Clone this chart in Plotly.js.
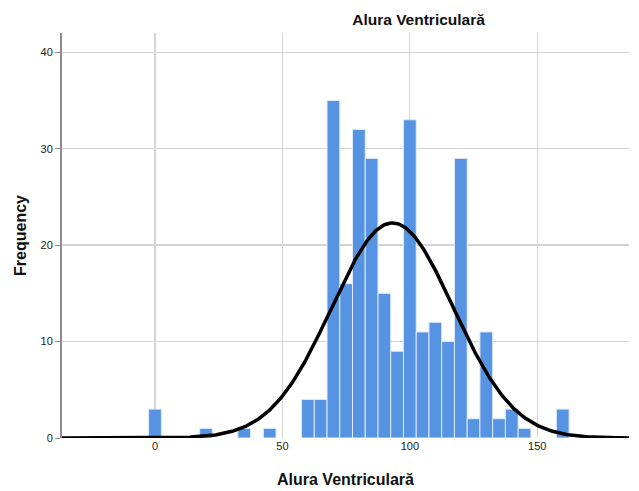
<!DOCTYPE html>
<html>
<head>
<meta charset="utf-8">
<script src="https://cdn.plot.ly/plotly-3.0.1.min.js"></script>
<style>html,body{margin:0;padding:0;background:#fff;}#chart{width:639px;height:491px;}</style>
</head>
<body>
<div id="chart"></div>
<script>
// Histogram bins (centres, width 5) and frequencies
const binCenters = [0, 20, 35, 45, 60, 65, 70, 75, 80, 85, 90, 95, 100, 105, 110, 115, 120, 125, 130, 135, 140, 145, 160];
const frequencies = [3, 1, 1, 1, 4, 4, 35, 16, 32, 29, 15, 9, 33, 11, 12, 10, 29, 2, 11, 2, 3, 1, 3];
const binWidth = 5;
const xTickVals = [0, 50, 100, 150];
const yTickVals = [0, 10, 20, 30, 40];
const titleText = "Alura Ventriculară";
const xTitle = "Alura Ventriculară";
const yTitle = "Frequency";

// Normal curve fitted to the binned data (mean, sd from the histogram)
let n = 0, s = 0, s2 = 0;
binCenters.forEach((c, i) => { n += frequencies[i]; s += c * frequencies[i]; s2 += c * c * frequencies[i]; });
const mean = s / n;
const sd = Math.sqrt((s2 - n * mean * mean) / (n - 1));
const xRange = [-36.5, 186];
const curveX = [], curveY = [];
for (let k = 0; k <= 400; k++) {
  const x = xRange[0] + (xRange[1] - xRange[0]) * k / 400;
  curveX.push(x);
  curveY.push(n * binWidth / (sd * Math.sqrt(2 * Math.PI)) * Math.exp(-0.5 * Math.pow((x - mean) / sd, 2)));
}

const traces = [
  {
    type: 'bar', x: binCenters, y: frequencies, width: binWidth,
    marker: { color: '#5694e3', line: { color: '#dfeafa', width: 1 } },
    hoverinfo: 'x+y'
  },
  {
    type: 'scatter', mode: 'lines', x: curveX, y: curveY,
    line: { color: '#000000', width: 3.5 }, hoverinfo: 'skip'
  }
];

const layout = {
  width: 639, height: 491,
  margin: { l: 62, r: 10, t: 33, b: 53 },
  paper_bgcolor: '#ffffff', plot_bgcolor: '#ffffff',
  showlegend: false,
  bargap: 0,
  font: { family: 'Liberation Sans, Arial, sans-serif', color: '#222' },
  title: {
    text: titleText, x: 0.655, xanchor: 'center', y: 0.961, yanchor: 'middle',
    font: { size: 15.5, color: '#111', family: 'Liberation Sans, Arial, sans-serif', weight: 'bold' }
  },
  xaxis: {
    range: xRange, tickvals: xTickVals, ticktext: xTickVals.map(String),
    showgrid: true, gridcolor: '#d4d4d4', gridwidth: 1.3, zeroline: false,
    showline: false, ticks: '', ticklen: 0,
    tickfont: { size: 11, color: '#222' },
    title: { text: xTitle, standoff: 22, font: { size: 16, color: '#111', weight: 'bold' } }
  },
  yaxis: {
    range: [0, 42], tickvals: yTickVals, ticktext: yTickVals.map(String),
    showgrid: true, gridcolor: '#d4d4d4', gridwidth: 1.3, zeroline: false,
    showline: true, linecolor: '#8c8c8c', linewidth: 2,
    ticks: 'outside', ticklen: 5, tickcolor: '#8c8c8c', tickwidth: 1,
    tickfont: { size: 11, color: '#222' },
    title: { text: yTitle, standoff: 10, font: { size: 16, color: '#111', weight: 'bold' } }
  }
};

Plotly.newPlot('chart', traces, layout, { displayModeBar: false, staticPlot: true });
</script>
</body>
</html>
